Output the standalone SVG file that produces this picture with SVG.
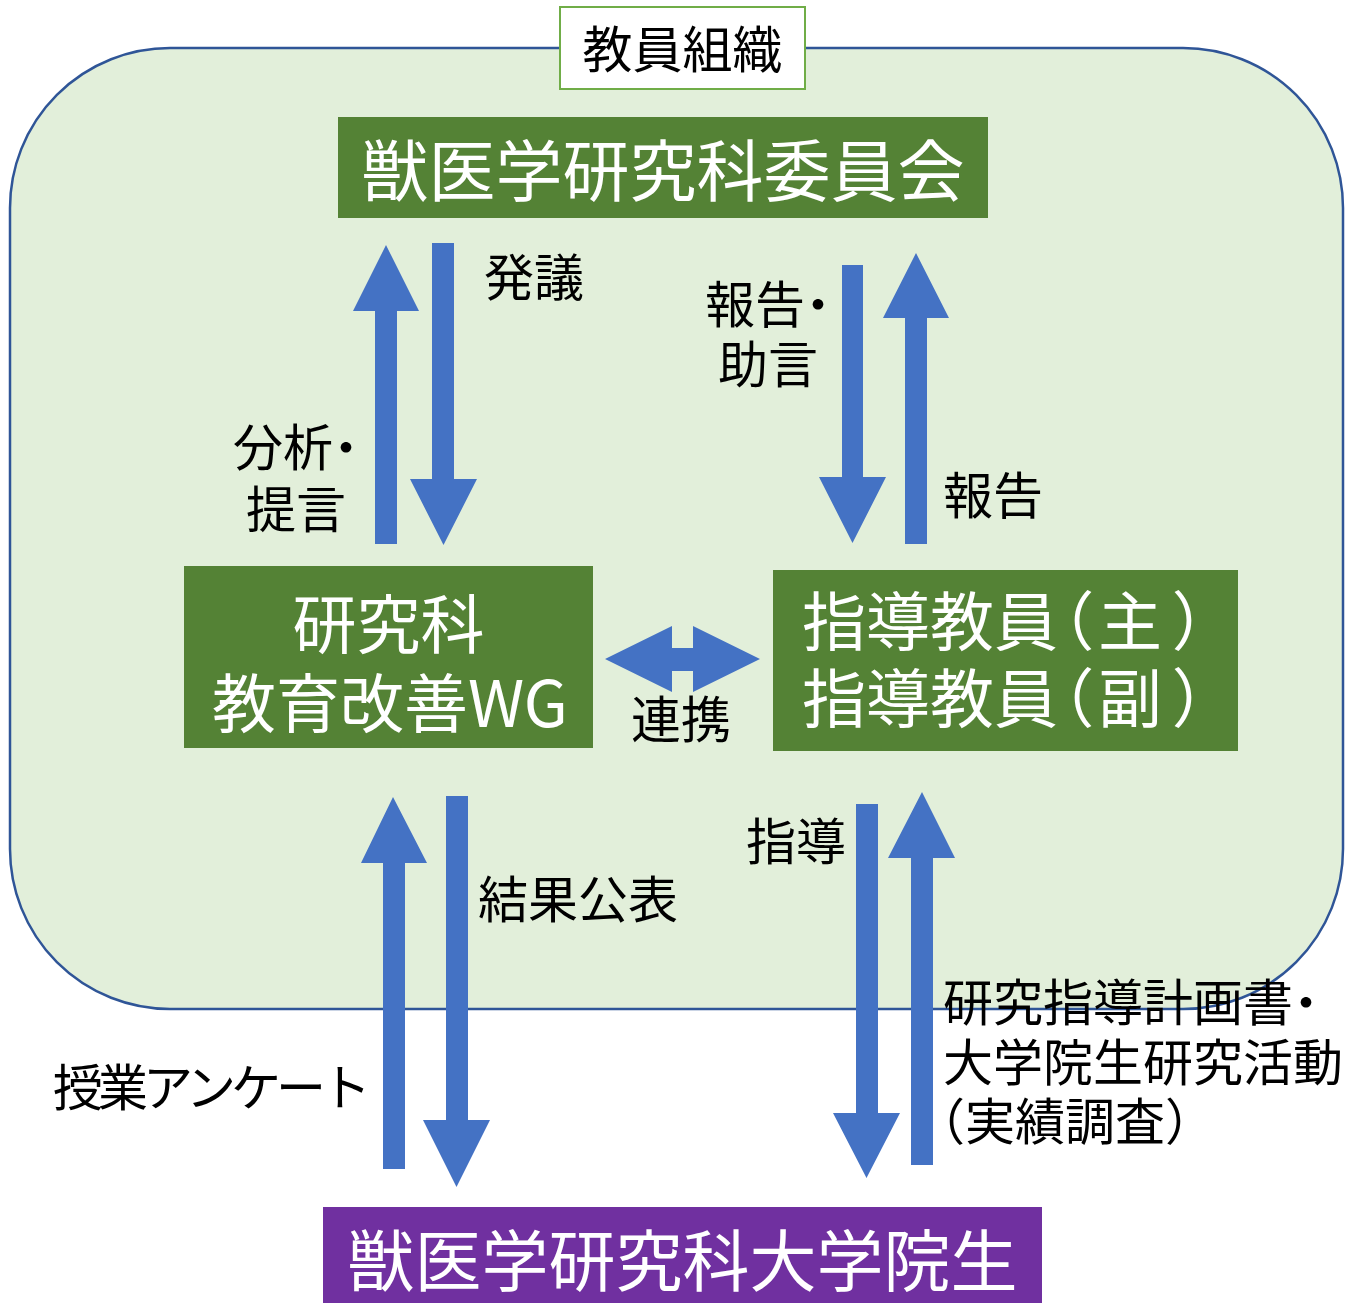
<svg xmlns="http://www.w3.org/2000/svg" width="1359" height="1303" viewBox="0 0 1359 1303">
<style>
.t{font-family:"Noto Sans CJK JP","Noto Sans",sans-serif;}
.lbl{font-size:50px;fill:#000;}
.wt{fill:#fff;}
.box{fill:#548235;}
.arr{fill:#4472C4;}
.palt{font-feature-settings:"palt";}
</style>
<rect width="1359" height="1303" fill="#fff"/>
<g id="org">
<rect x="10" y="48" width="1333" height="961" rx="160" ry="160" fill="#E2EFDA" stroke="#2F5597" stroke-width="2.5"/>
</g>
<g id="org-label">
<rect x="560" y="7" width="245" height="82" fill="#fff" stroke="#70AD47" stroke-width="2"/>
<text class="t" x="682.5" y="68" font-size="50" text-anchor="middle">教員組織</text>
</g>
<g id="committee">
<rect class="box" x="338" y="117" width="650" height="101"/>
<text class="t wt" x="663" y="196" font-size="67" text-anchor="middle">獣医学研究科委員会</text>
</g>
<g id="wg">
<rect class="box" x="184" y="566" width="409" height="182"/>
<text class="t wt" x="388.5" y="648" font-size="64" text-anchor="middle">研究科</text>
<text class="t wt" x="390" y="727" font-size="64" text-anchor="middle">教育改善WG</text>
</g>
<g id="supervisors">
<rect class="box" x="773" y="570" width="465" height="181"/>
<text class="t wt palt" x="802" y="645" font-size="64">指導教員<tspan dx="2">（</tspan><tspan dx="6">主</tspan><tspan dx="12">）</tspan></text>
<text class="t wt palt" x="802" y="722" font-size="64">指導教員<tspan dx="2">（</tspan><tspan dx="6">副</tspan><tspan dx="12">）</tspan></text>
</g>
<g id="students">
<rect x="323" y="1207" width="719" height="96" fill="#7030A0"/>
<text class="t wt" x="682.5" y="1286" font-size="67" text-anchor="middle">獣医学研究科大学院生</text>
</g>
<g id="connectors">
<polygon class="arr" points="386,245 419,311 397,311 397,544 375,544 375,311 353,311"/>
<polygon class="arr" points="432,243 454,243 454,479 477,479 443.5,545 410,479 432,479"/>
<polygon class="arr" points="842,265 863,265 863,477 886,477 852.5,543 819,477 842,477"/>
<polygon class="arr" points="916,253 949,318 927,318 927,544 905,544 905,318 883,318"/>
<polygon class="arr" points="605,659 672,626 672,648 693,648 693,626 760,659 693,692 693,671 672,671 672,692"/>
<polygon class="arr" points="393,797 427,863 405,863 405,1169 383,1169 383,863 361,863"/>
<polygon class="arr" points="446,796 468,796 468,1120 490,1120 456.5,1187 423,1120 446,1120"/>
<polygon class="arr" points="856,804 878,804 878,1113 900,1113 866.5,1178 833,1113 856,1113"/>
<polygon class="arr" points="922,792 955,858 933,858 933,1165 911,1165 911,858 888,858"/>
</g>
<g id="labels">
<text class="t lbl" x="484" y="296">発議</text>
<text class="t lbl" x="705" y="323">報告<tspan dx="-12">・</tspan></text>
<text class="t lbl" x="718" y="383">助言</text>
<text class="t lbl" x="233" y="466">分析<tspan dx="-12">・</tspan></text>
<text class="t lbl" x="246" y="528">提言</text>
<text class="t lbl" x="943" y="514">報告</text>
<text class="t lbl" x="631" y="738">連携</text>
<text class="t lbl" x="746" y="860">指導</text>
<text class="t lbl" x="478" y="918">結果公表</text>
<text class="t lbl" x="53" y="1106" textLength="318" lengthAdjust="spacing">授業アンケート</text>
<text class="t lbl" x="943" y="1021">研究指導計画書<tspan dx="-12">・</tspan></text>
<text class="t lbl" x="943" y="1081">大学院生研究活動</text>
<text class="t lbl" x="915" y="1140">（実績調査）</text>
</g>
</svg>
